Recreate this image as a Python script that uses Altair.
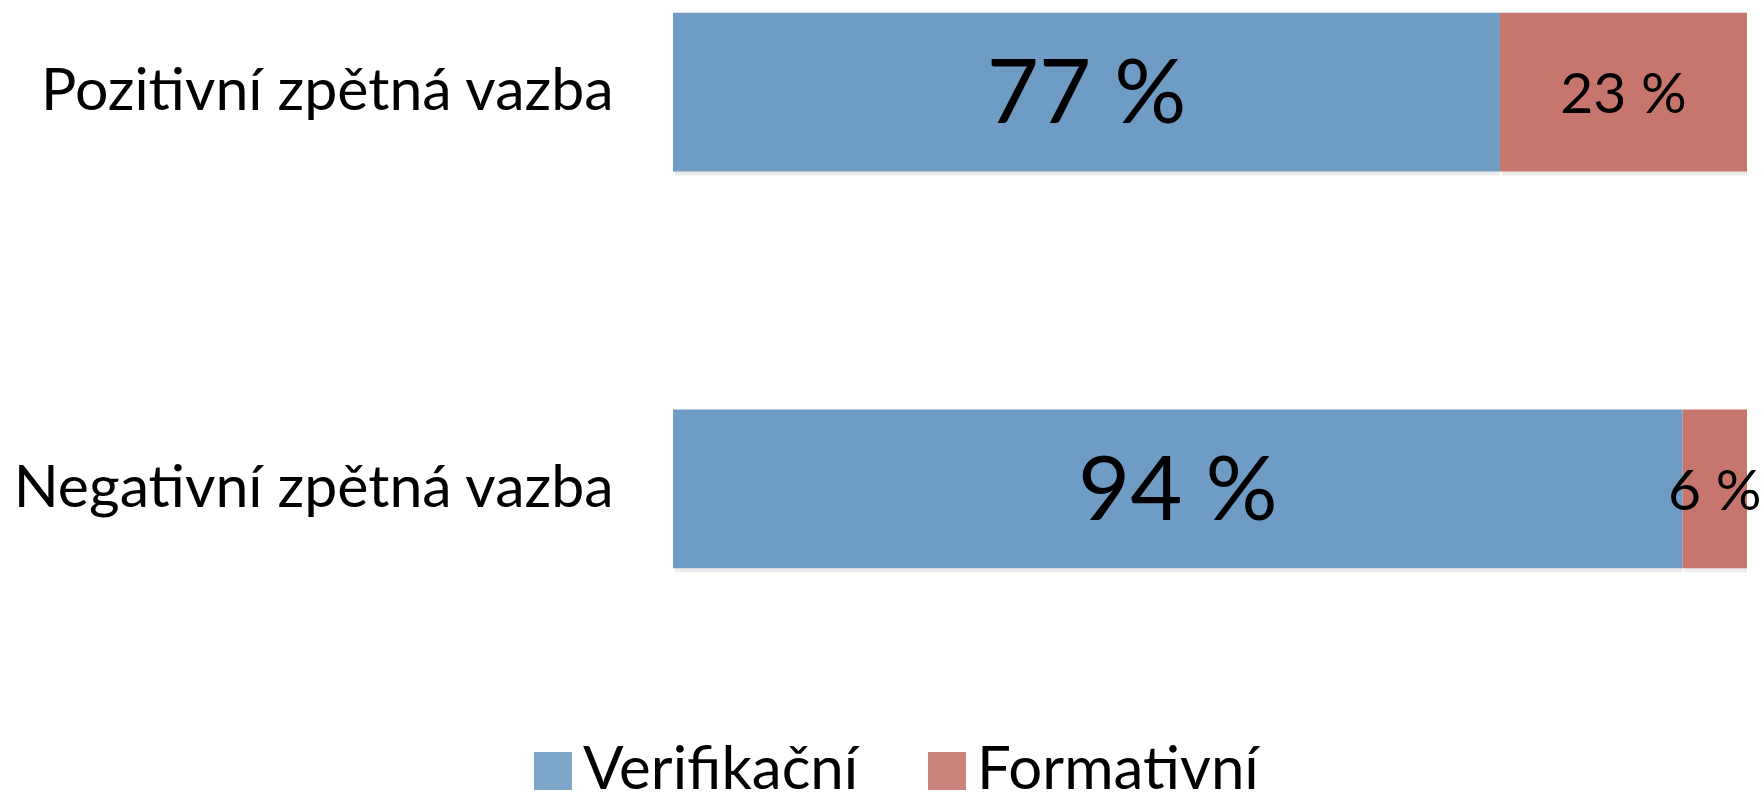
import altair as alt
import pandas as pd

categories = ["Pozitivní zpětná vazba", "Negativní zpětná vazba"]
series = ["Verifikační", "Formativní"]
verifikacni = [77, 94]
formativni = [23, 6]

rows = []
for i, c in enumerate(categories):
    rows.append({"kategorie": c, "typ": series[0], "hodnota": verifikacni[i], "poradi": 0})
    rows.append({"kategorie": c, "typ": series[1], "hodnota": formativni[i], "poradi": 1})
df = pd.DataFrame(rows)

FONT = "Lato"
bar_colors = ["#6F9CC5", "#C7766E"]

y_scale = alt.Scale(paddingInner=0.6, paddingOuter=0.032)
y_enc = alt.Y(
    "kategorie:N",
    sort=categories,
    title=None,
    scale=y_scale,
    axis=alt.Axis(
        domain=False, ticks=False, grid=False, labelFont=FONT, labelFontSize=59,
        labelColor="black", labelPadding=60, labelLimit=0,
    ),
)
x_enc = alt.X("x0:Q", scale=alt.Scale(domain=[0, 100], nice=False, zero=True), axis=None)
x_mid = alt.X("mid:Q", scale=alt.Scale(domain=[0, 100], nice=False, zero=True), axis=None)

base = alt.Chart(df).transform_stack(
    stack="hodnota", groupby=["kategorie"], as_=["x0", "x1"],
    sort=[alt.SortField("poradi", order="ascending")],
).transform_calculate(
    mid="(datum.x0 + datum.x1) / 2",
    popis="datum.hodnota + ' %'",
)

shadow = base.mark_bar(color="#ececec", xOffset=2, yOffset=4).encode(
    y=y_enc, x=x_enc, x2="x1:Q",
)

bars = base.mark_bar().encode(
    y=y_enc,
    x=x_enc,
    x2="x1:Q",
    color=alt.Color(
        "typ:N",
        scale=alt.Scale(domain=series, range=bar_colors),
        legend=alt.Legend(
            title=None, orient="none", legendX=-150, legendY=741,
            direction="horizontal", symbolType="square", symbolSize=1444,
            symbolStrokeWidth=0, symbolOpacity=0.9, labelFont=FONT, labelFontSize=60,
            labelColor="black", labelOffset=0, columnPadding=58,
            padding=0, labelLimit=0,
        ),
    ),
)

text_big = base.transform_filter(alt.datum.poradi == 0).mark_text(
    font=FONT, color="black", baseline="middle", dy=4, fontSize=90
).encode(y=y_enc, x=x_mid, text="popis:N")

text_small = base.transform_filter(alt.datum.poradi == 1).mark_text(
    font=FONT, color="black", baseline="middle", dy=4, fontSize=57
).encode(y=y_enc, x=x_mid, text="popis:N")

chart = alt.layer(shadow, bars, text_big, text_small).properties(
    width=1074,
    height=581,
    autosize=alt.AutoSizeParams(type="none"),
    padding={"left": 673, "top": 0, "right": 17, "bottom": 217},
).configure(background="white").configure_view(strokeWidth=0)

chart.save("out.html", embed_options={"renderer": "svg", "actions": False})
